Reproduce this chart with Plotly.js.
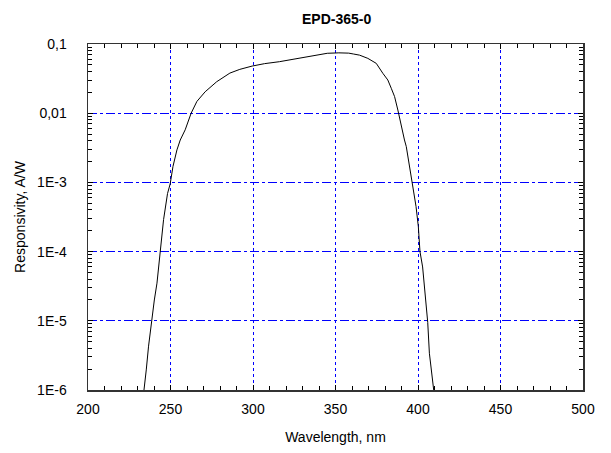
<!DOCTYPE html>
<html>
<head>
<meta charset="utf-8">
<script src="https://cdn.plot.ly/plotly-3.0.1.min.js"></script>
<style>html,body{margin:0;padding:0;background:#fff;}</style>
</head>
<body>
<div id="chart" style="width:611px;height:453px;"></div>
<script>
// Data
var wavelength = [232.5, 233.7, 235.3, 236.7, 238.4, 240.2, 241.8, 243.8, 245.8, 248.2, 249.8, 251.5, 253.9, 255.9, 258.9, 262.5, 266, 271, 278, 286, 292, 299.5, 307, 316, 326, 336, 345, 352, 358, 361, 364.6, 369.6, 374.7, 378.7, 381.7, 383.8, 385.8, 387.8, 389.8, 391.8, 392.9, 394.8, 396.8, 398.8, 400.2, 401.2, 402.8, 403.5, 404.5, 405.9, 406.9, 409.5, 411];
var responsivity = [5e-7, 1.0e-6, 1.95e-6, 4.3e-6, 9.5e-6, 2.0e-5, 3.5e-5, 1.0e-4, 2.9e-4, 6.9e-4, 9.5e-4, 1.7e-3, 2.95e-3, 4.1e-3, 5.75e-3, 0.010, 0.0148, 0.0204, 0.0285, 0.038, 0.043, 0.048, 0.052, 0.0555, 0.061, 0.066, 0.0734, 0.0745, 0.0738, 0.0716, 0.069, 0.062, 0.0525, 0.0377, 0.0302, 0.0229, 0.0174, 0.0111, 0.0064, 0.0041, 0.0033, 0.0017, 9.8e-4, 4.5e-4, 2.3e-4, 1.0e-4, 6.0e-5, 3.7e-5, 2.0e-5, 9.5e-6, 3.4e-6, 1.0e-6, 5e-7];

var xTickVals = [200, 250, 300, 350, 400, 450, 500];
var xTickText = ['200', '250', '300', '350', '400', '450', '500'];
var yTickVals = [1e-6, 1e-5, 1e-4, 1e-3, 0.01, 0.1];
var yTickText = ['1E-6', '1E-5', '1E-4', '1E-3', '0,01', '0,1'];
var titleText = 'EPD-365-0';
var xTitle = 'Wavelength, nm';
var yTitle = 'Responsivity, A/W';

// minor tick positions on the log axis (2..9 in each decade)
var yMinor = [];
for (var e = -6; e < -1; e++) {
  for (var m = 2; m <= 9; m++) yMinor.push(m * Math.pow(10, e));
}

var font = 'Liberation Sans, Arial, Helvetica, sans-serif';

var trace = {
  x: wavelength,
  y: responsivity,
  type: 'scatter',
  mode: 'lines',
  line: {color: '#000000', width: 1},
  hoverinfo: 'skip'
};

var layout = {
  width: 611, height: 453,
  margin: {l: 87.5, r: 27.5, t: 44, b: 63, pad: 0},
  paper_bgcolor: '#ffffff', plot_bgcolor: '#ffffff',
  font: {family: font, size: 14, color: '#000'},
  showlegend: false,
  title: {
    text: '<b>' + titleText + '</b>',
    font: {family: font, size: 14, color: '#000'},
    x: 0.551, xref: 'container', xanchor: 'center',
    y: 1 - 19 / 453, yref: 'container', yanchor: 'middle'
  },
  xaxis: {
    range: [200, 500],
    tickmode: 'array', tickvals: xTickVals, ticktext: xTickText,
    ticks: 'inside', ticklen: 5, tickwidth: 1, tickcolor: '#000',
    ticklabelstandoff: 6,
    showline: true, linecolor: '#333', linewidth: 1.5, mirror: 'ticks',
    showgrid: true, gridcolor: '#0000ff', gridwidth: 1, griddash: 'dot',
    zeroline: false,
    tickfont: {family: font, size: 14, color: '#000'},
    minor: {ticks: 'inside', dtick: 10, tick0: 200, ticklen: 4, tickcolor: '#000', showgrid: false},
    title: {text: xTitle, font: {family: font, size: 14, color: '#000'}, standoff: 16}
  },
  yaxis: {
    type: 'log', range: [-6, -1],
    tickmode: 'array', tickvals: yTickVals, ticktext: yTickText,
    ticks: 'inside', ticklen: 5, tickwidth: 1, tickcolor: '#000',
    ticklabelstandoff: 17,
    showline: true, linecolor: '#333', linewidth: 1.5, mirror: 'ticks',
    showgrid: true, gridcolor: '#0000ff', gridwidth: 1, griddash: 'dashdot',
    zeroline: false,
    tickfont: {family: font, size: 14, color: '#000'},
    minor: {ticks: 'inside', tickmode: 'array', tickvals: yMinor, ticklen: 4, tickcolor: '#000', showgrid: false},
    title: {text: yTitle, font: {family: font, size: 14, color: '#000'}, standoff: 8}
  }
};

Plotly.newPlot('chart', [trace], layout, {displayModeBar: false, staticPlot: true});
</script>
</body>
</html>
